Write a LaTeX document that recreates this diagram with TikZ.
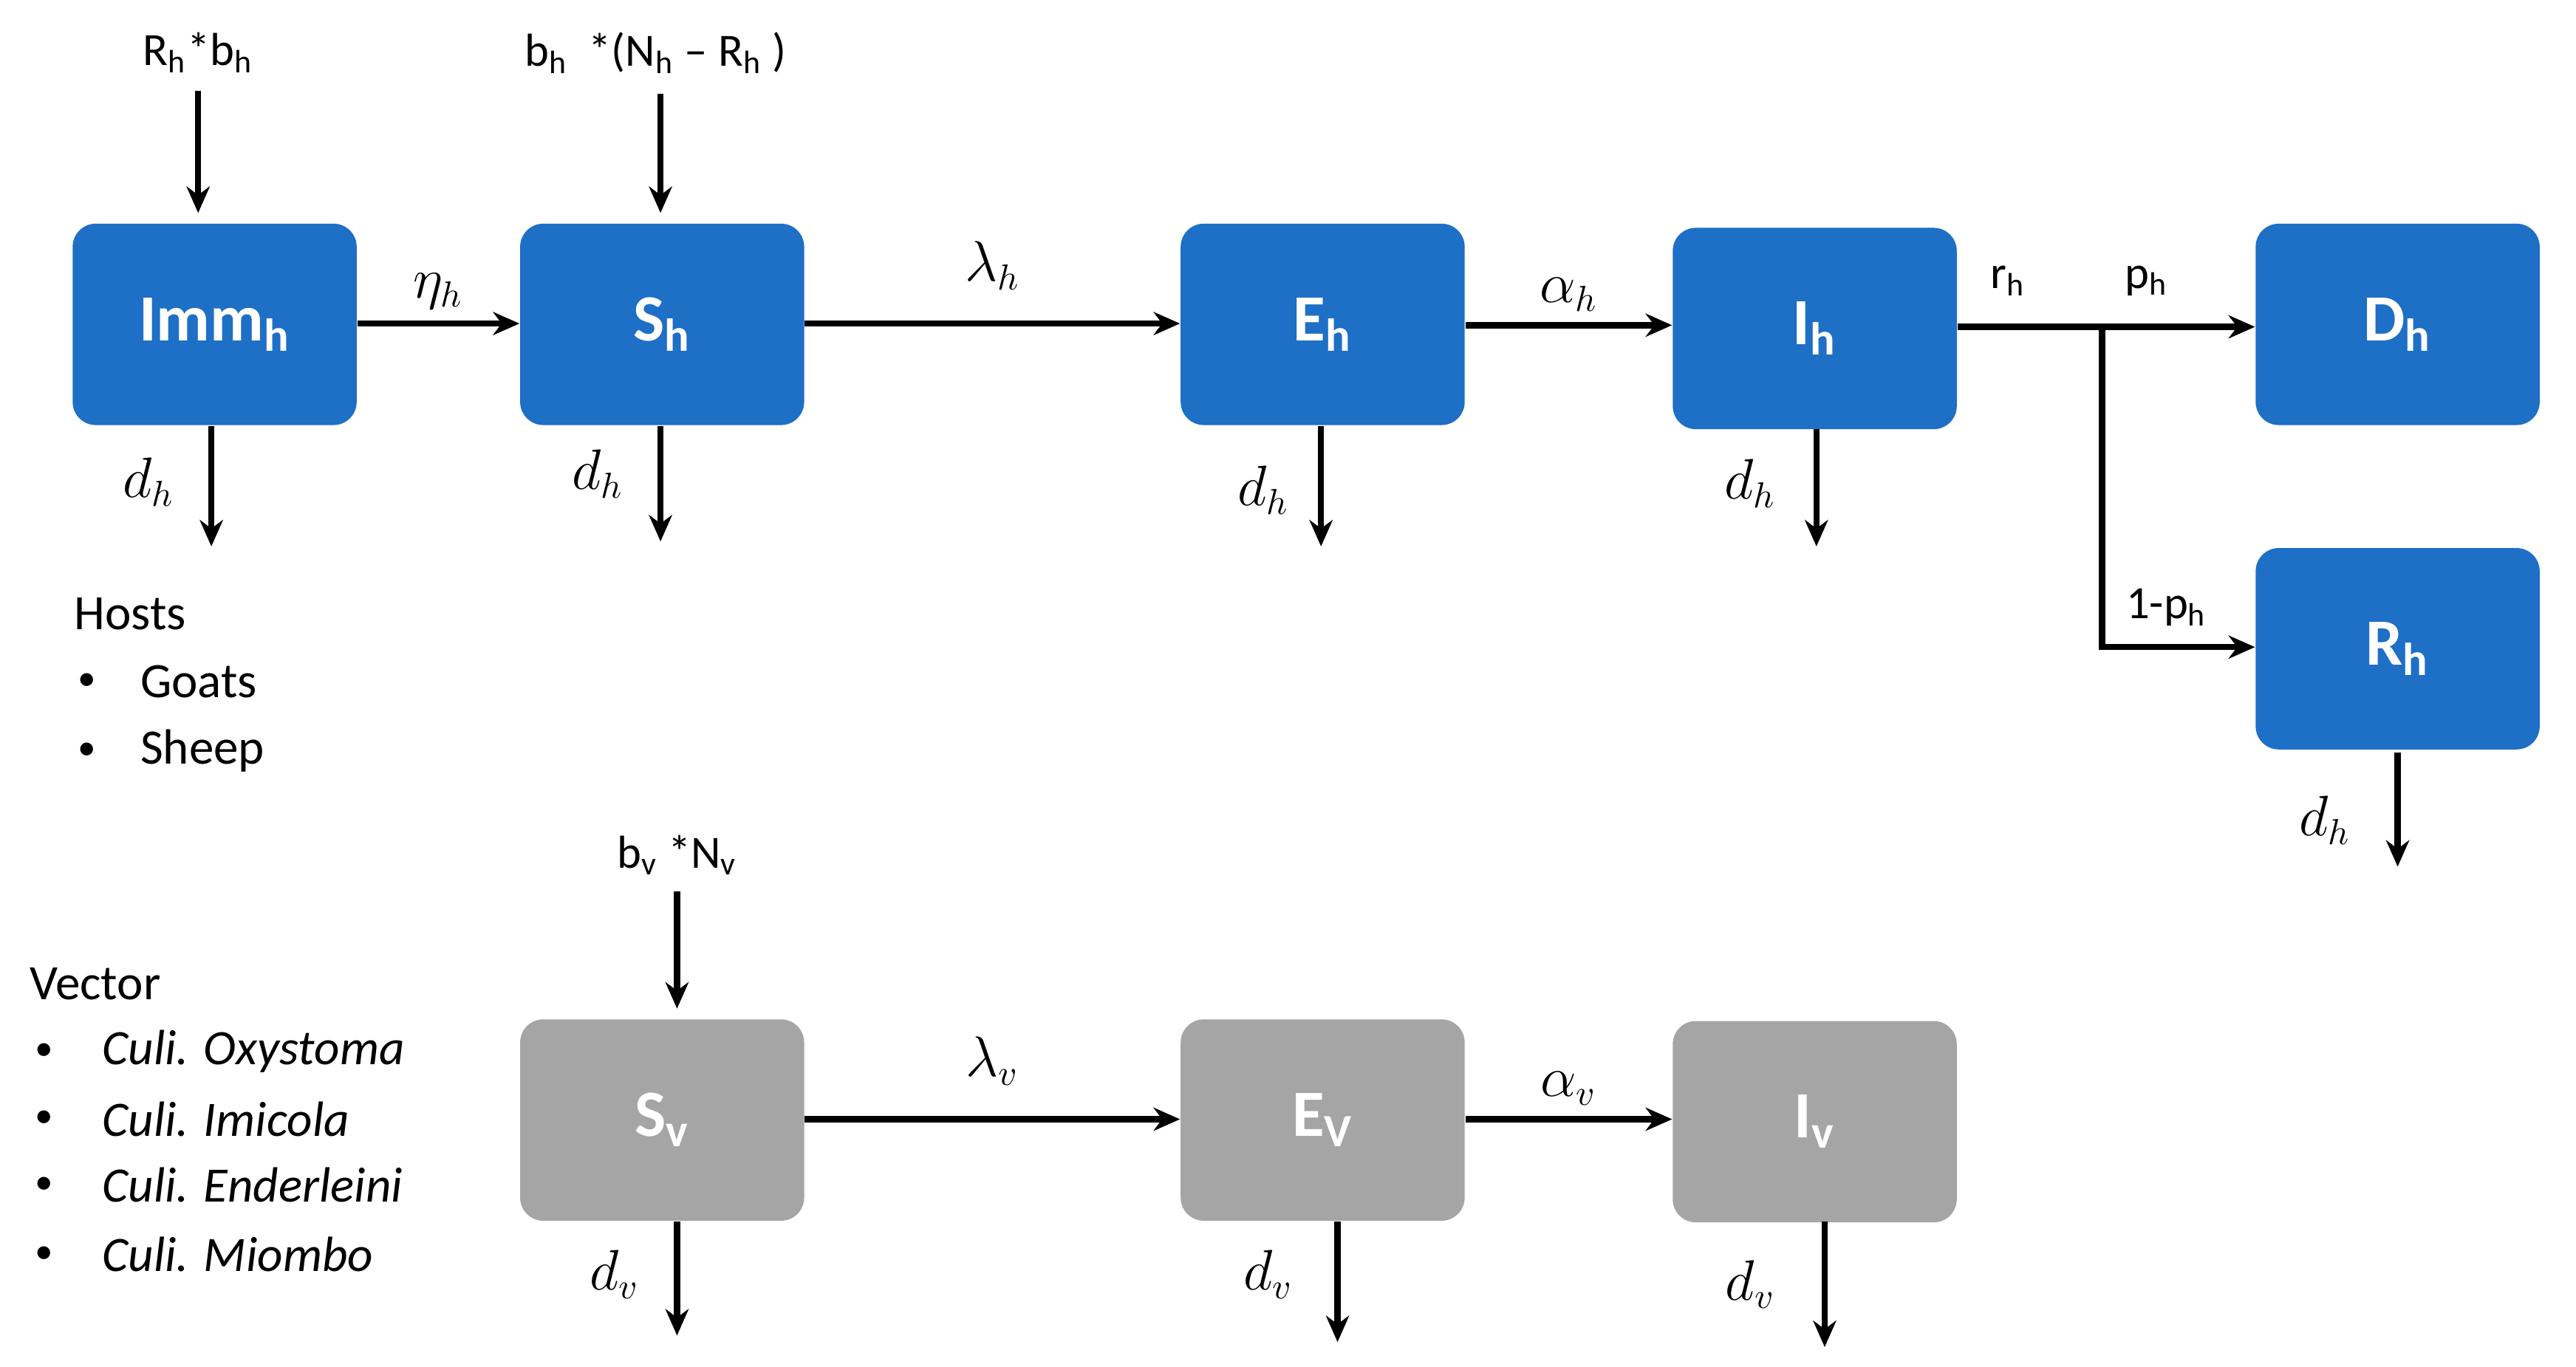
\documentclass[tikz,border=0pt]{standalone}
\usepackage{fontspec}
\setmainfont{Carlito}
\usetikzlibrary{arrows.meta}
\definecolor{hb}{HTML}{1E6FC6}
\definecolor{vg}{HTML}{A5A5A5}
\begin{document}
\begin{tikzpicture}[x=0.5pt,y=-0.5pt,
  box/.style={rounded corners=7pt,draw=none,minimum width=86pt,minimum height=61pt,text=white,font=\fontsize{20}{24}\selectfont\bfseries},
  hbox/.style={box,fill=hb},
  vbox/.style={box,fill=vg},
  ar/.style={line width=1.9pt,-{Stealth[length=8pt,width=7pt]}},
  lab/.style={font=\fontsize{14}{16}\selectfont},
  ml/.style={font=\fontsize{16}{18}\selectfont},
  txt/.style={font=\fontsize{15}{18}\selectfont,anchor=west},
  bul/.style={font=\fontsize{11}{14}\selectfont,anchor=west}]
\useasboundingbox (0,0) rectangle (1560,828);
\node[hbox] (imm) at (130,196.5) {Imm\textsubscript{h}};
\node[hbox] (sh) at (401,196.5) {S\textsubscript{h}};
\node[hbox] (eh) at (801,196.5) {E\textsubscript{h}};
\node[hbox] (ih) at (1099,199) {I\textsubscript{h}};
\node[hbox] (dh) at (1452,196.5) {D\textsubscript{h}};
\node[hbox] (rh) at (1452,393) {R\textsubscript{h}};
\node[vbox] (sv) at (401,678.5) {S\textsubscript{v}};
\node[vbox] (ev) at (801,678.5) {E\textsubscript{V}};
\node[vbox] (iv) at (1099,679.5) {I\textsubscript{v}};
% inputs
\node[lab] (in1) at (120,32) {R\textsubscript{h}*b\textsubscript{h}};
\node[lab] (in2) at (397,32) {b\textsubscript{h}\ \ *(N\textsubscript{h} -- R\textsubscript{h} )};
\node[lab] (in3) at (410,518) {b\textsubscript{v} *N\textsubscript{v}};
\draw[ar] (120,55) -- (120,129);
\draw[ar] (400,57) -- (400,129);
\draw[ar] (410,540) -- (410,611);
% transitions
\draw[ar] (imm.east|-0,196) -- node[above,ml]{$\eta_h$} (sh.west|-0,196);
\draw[ar] (sh.east|-0,196) -- node[above=6pt,ml]{$\lambda_h$} (eh.west|-0,196);
\draw[ar] (eh.east|-0,197) -- node[above,ml]{$\alpha_h$} (ih.west|-0,197);
\coordinate (br) at (1273,198);
\draw[line width=1.9pt] (ih.east|-0,198) -- (br);
\draw[ar] (br) -- (dh.west|-0,198);
\draw[ar] (br) -- (1273,392) -- (rh.west|-0,392);
\node[lab] at (1216,170) {r\textsubscript{h}};
\node[lab] at (1300,170) {p\textsubscript{h}};
\node[lab] at (1312,368) {1-p\textsubscript{h}};
\draw[ar] (sv.east|-0,678) -- node[above=6pt,ml]{$\lambda_v$} (ev.west|-0,678);
\draw[ar] (ev.east|-0,678) -- node[above,ml]{$\alpha_v$} (iv.west|-0,678);
% deaths
\draw[ar] (128,258) -- (128,331); \node[ml] at (90,292) {$d_h$};
\draw[ar] (400,258) -- (400,328); \node[ml] at (362,287) {$d_h$};
\draw[ar] (800,258) -- (800,331); \node[ml] at (765,297) {$d_h$};
\draw[ar] (1100,260) -- (1100,331); \node[ml] at (1060,293) {$d_h$};
\draw[ar] (1452,456) -- (1452,525); \node[ml] at (1408,497) {$d_h$};
\draw[ar] (410,740) -- (410,809); \node[ml] at (372,772) {$d_v$};
\draw[ar] (810,740) -- (810,813); \node[ml] at (768,772) {$d_v$};
\draw[ar] (1105,740) -- (1105,816); \node[ml] at (1060,778) {$d_v$};
% legends
\node[txt] (hosts) at (38,372) {Hosts};
\node[bul] (b1) at (40,413) {•};\node[txt] (g) at (78,413) {Goats};
\node[bul] (b2) at (40,455) {•};\node[txt] (s) at (78,455) {Sheep};
\node[txt] (vec) at (11,596) {Vector};
\node[bul] (c1) at (14,637) {•};\node[txt] (o1) at (55,637) {\itshape Culi. Oxystoma};
\node[bul] (c2) at (14,678) {•};\node[txt] (o2) at (55,678) {\itshape Culi. Imicola};
\node[bul] (c3) at (14,718) {•};\node[txt] (o3) at (55,718) {\itshape Culi. Enderleini};
\node[bul] (c4) at (14,760) {•};\node[txt] (o4) at (55,760) {\itshape Culi. Miombo};
\end{tikzpicture}
\end{document}
